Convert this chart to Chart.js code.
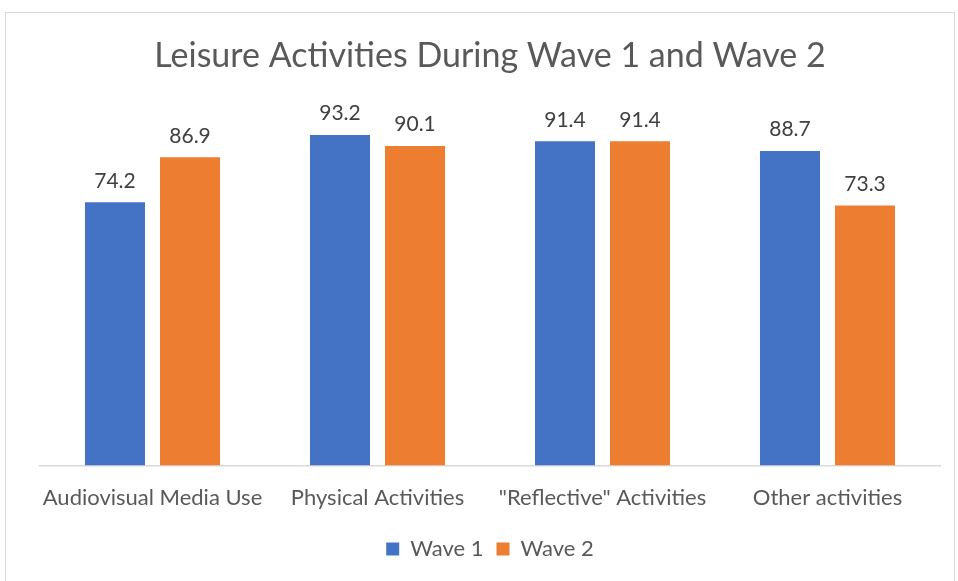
<!DOCTYPE html>
<html>
<head>
<meta charset="utf-8">
<script src="https://cdn.jsdelivr.net/npm/chart.js@4"></script>
<style>
html,body{margin:0;padding:0;background:#fff;}
#frame{position:absolute;left:5px;top:12px;width:950px;height:580px;border:1px solid #d9d9d9;box-sizing:border-box;}
#wrap{position:absolute;left:0;top:0;width:958px;height:581px;}
</style>
</head>
<body>
<div id="frame"></div>
<div id="wrap"><canvas id="c" width="958" height="581"></canvas></div>
<script>
const categories = ["Audiovisual Media Use", "Physical Activities", "\"Reflective\" Activities", "Other activities"];
const wave1 = [74.2, 93.2, 91.4, 88.7];
const wave2 = [86.9, 90.1, 91.4, 73.3];
const seriesNames = ["Wave 1", "Wave 2"];
const titleText = "Leisure Activities During Wave 1 and Wave 2";

const FONT = "Lato, 'Open Sans', sans-serif";

const labelPlugin = {
  id: 'barLabels',
  afterDatasetsDraw(chart) {
    const ctx = chart.ctx;
    ctx.save();
    ctx.font = "21px " + FONT;
    ctx.fillStyle = "#404040";
    ctx.textAlign = "center";
    ctx.textBaseline = "bottom";
    chart.data.datasets.forEach((ds, i) => {
      const meta = chart.getDatasetMeta(i);
      meta.data.forEach((el, j) => {
        ctx.fillText(ds.data[j].toFixed(1), el.x, el.y - 11);
      });
    });
    ctx.restore();
  }
};

new Chart(document.getElementById('c'), {
  type: 'bar',
  data: {
    labels: categories,
    datasets: [
      {label: seriesNames[0], data: wave1, backgroundColor: '#4472C4', categoryPercentage: 0.667, barPercentage: 0.8},
      {label: seriesNames[1], data: wave2, backgroundColor: '#ED7D31', categoryPercentage: 0.667, barPercentage: 0.8}
    ]
  },
  options: {
    responsive: false,
    animation: false,
    layout: {padding: {left: 40, right: 18, top: 20, bottom: 11}},
    plugins: {
      title: {display: true, text: titleText, color: '#595959', font: {family: FONT, size: 34, weight: 'normal'}, padding: {top: 16, bottom: 34}},
      legend: {position: 'bottom', labels: {color: '#595959', font: {family: FONT, size: 22}, boxWidth: 13, boxHeight: 13, padding: 13}},
      tooltip: {enabled: false}
    },
    scales: {
      y: {display: false, min: 0, max: 100},
      x: {
        grid: {display: false},
        border: {display: true, color: '#d9d9d9', width: 1.5},
        ticks: {color: '#595959', font: {family: FONT, size: 22}, padding: 11, maxRotation: 0, minRotation: 0, autoSkip: false},
        afterFit: (s) => { s.height += 3; }
      }
    }
  },
  plugins: [labelPlugin]
});
</script>
</body>
</html>
